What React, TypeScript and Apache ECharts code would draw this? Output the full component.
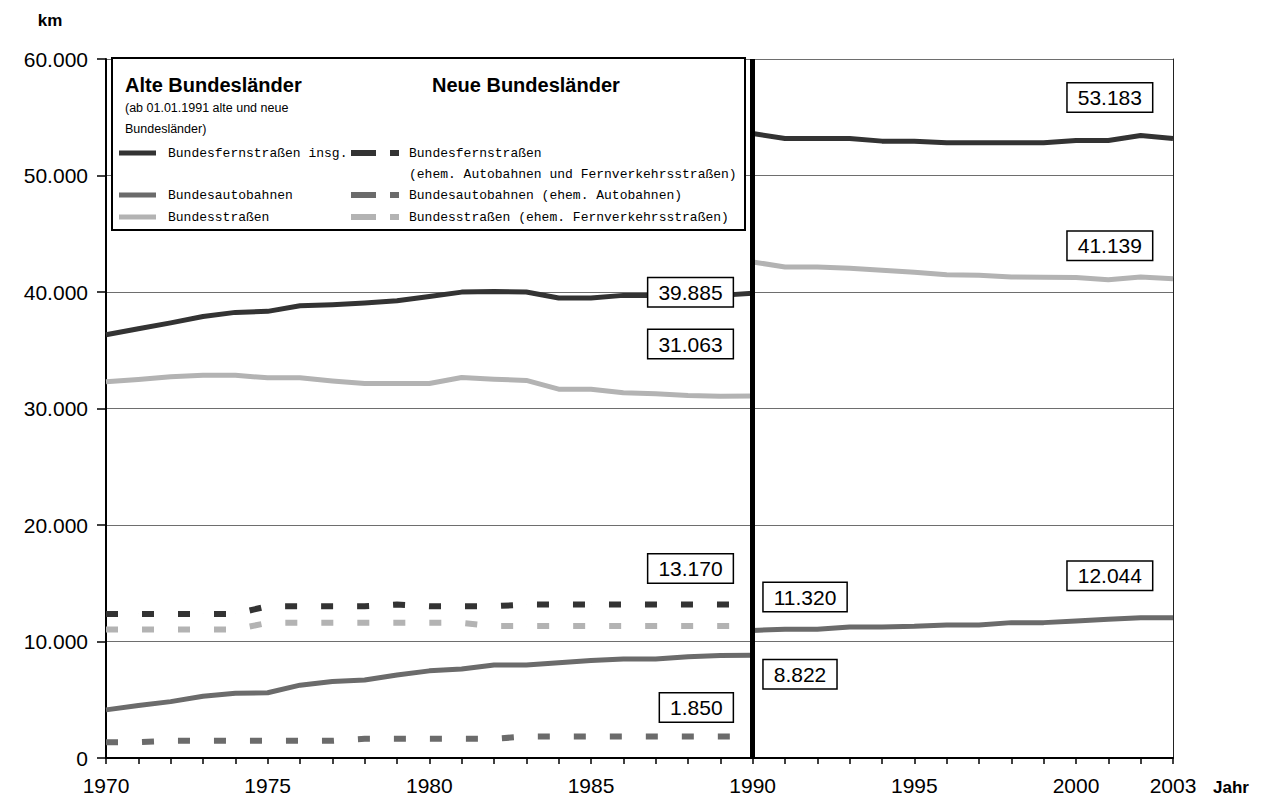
import React, { useEffect, useRef } from "react";
import * as echarts from "echarts";

// ---- data ----
const yearsOld = [1970, 1971, 1972, 1973, 1974, 1975, 1976, 1977, 1978, 1979, 1980, 1981, 1982, 1983, 1984, 1985, 1986, 1987, 1988, 1989, 1990];
const yearsNew = [1990, 1991, 1992, 1993, 1994, 1995, 1996, 1997, 1998, 1999, 2000, 2001, 2002, 2003];

// Alte Bundesländer (solid, 1970-1990)
const fernAlt = [36330, 36850, 37350, 37900, 38250, 38340, 38820, 38910, 39050, 39250, 39620, 39990, 40050, 40000, 39480, 39480, 39710, 39710, 39710, 39710, 39885];
const autobahnAlt = [4130, 4500, 4840, 5300, 5560, 5600, 6250, 6560, 6700, 7130, 7480, 7640, 7990, 7990, 8180, 8360, 8500, 8500, 8700, 8800, 8822];
const strassenAlt = [32290, 32490, 32720, 32860, 32860, 32630, 32630, 32370, 32150, 32150, 32150, 32660, 32520, 32410, 31660, 31660, 31350, 31260, 31120, 31060, 31063];

// Neue Bundesländer (dashed, 1970-1990)
const fernNeu = [12370, 12370, 12370, 12370, 12370, 13030, 13030, 13030, 13030, 13170, 13030, 13030, 13030, 13170, 13170, 13170, 13170, 13170, 13170, 13170, 13170];
const autobahnNeu = [1360, 1360, 1480, 1480, 1480, 1480, 1480, 1480, 1650, 1650, 1650, 1650, 1650, 1850, 1850, 1850, 1850, 1850, 1850, 1850, 1850];
const strassenNeu = [11030, 11030, 11030, 11030, 11030, 11600, 11600, 11600, 11600, 11600, 11600, 11600, 11320, 11320, 11320, 11320, 11320, 11320, 11320, 11320, 11320];

// Gesamtdeutschland (solid, 1990-2003)
const fernGes = [53600, 53180, 53180, 53180, 52950, 52950, 52810, 52810, 52810, 52810, 53010, 53010, 53440, 53183];
const autobahnGes = [10950, 11050, 11050, 11250, 11250, 11300, 11420, 11420, 11620, 11620, 11750, 11900, 12040, 12044];
const strassenGes = [42580, 42150, 42150, 42040, 41860, 41690, 41490, 41430, 41290, 41260, 41240, 41060, 41290, 41139];

const yTicks = [0, 10000, 20000, 30000, 40000, 50000, 60000];

const C_DARK = "#333333";
const C_MID = "#6b6b6b";
const C_LIGHT = "#b3b3b3";
const SANS = "'Liberation Sans', Arial, sans-serif";

const fmt = (v: number) => Math.round(v).toString().replace(/\B(?=(\d{3})+(?!\d))/g, ".");

function boxLabel(position: string, distance: number, offset: number[]) {
  return {
    show: true,
    position,
    distance,
    offset,
    formatter: (p: any) => fmt(p.value[1]),
    color: "#000",
    fontFamily: SANS,
    fontSize: 21,
    backgroundColor: "#fff",
    borderColor: "#000",
    borderWidth: 1.5,
    padding: [4, 10, 3, 10],
  };
}

function pts(years: number[], vals: number[], labelIdx = -1, label: any = null) {
  return years.map((y, i) =>
    i === labelIdx ? { value: [y, vals[i]], label } : { value: [y, vals[i]] }
  );
}

function lineSeries(name: string, data: any[], color: string, dashed: boolean, extra: any = {}) {
  return {
    name,
    type: "line",
    data,
    showSymbol: true,
    symbol: "circle",
    symbolSize: 0.1,
    itemStyle: { color },
    silent: true,
    z: 3,
    lineStyle: dashed
      ? { color, width: 6, type: [12, 24], cap: "butt" }
      : { color, width: 5, type: "solid", join: "round" },
    ...extra,
  };
}

const MONO = "13px 'Liberation Mono', 'Courier New', monospace";

function legendGraphic() {
  const els: any[] = [];
  els.push({ type: "rect", z: 100, shape: { x: 112, y: 58, width: 633, height: 172 }, style: { fill: "#fff", stroke: "#000", lineWidth: 2 } });
  const txt = (x: number, y: number, text: string, font: string) =>
    els.push({ type: "text", z: 101, x, y, style: { text, font, fill: "#000", align: "left", verticalAlign: "middle", textAlign: "left", textVerticalAlign: "middle" } });
  txt(125, 85, "Alte Bundesländer", "bold 20px 'Liberation Sans', Arial, sans-serif");
  txt(432, 85, "Neue Bundesländer", "bold 20px 'Liberation Sans', Arial, sans-serif");
  txt(125, 108, "(ab 01.01.1991 alte und neue", "12.5px 'Liberation Sans', Arial, sans-serif");
  txt(125, 129, "Bundesländer)", "12.5px 'Liberation Sans', Arial, sans-serif");
  const rows = [
    { y: 153, c: C_DARK, l: "Bundesfernstraßen insg.", r: "Bundesfernstraßen" },
    { y: 195, c: C_MID, l: "Bundesautobahnen", r: "Bundesautobahnen (ehem. Autobahnen)" },
    { y: 217, c: C_LIGHT, l: "Bundesstraßen", r: "Bundesstraßen (ehem. Fernverkehrsstraßen)" },
  ];
  rows.forEach((r) => {
    els.push({ type: "line", z: 101, shape: { x1: 119, y1: r.y, x2: 156, y2: r.y }, style: { stroke: r.c, lineWidth: 5 } });
    els.push({ type: "rect", z: 101, shape: { x: 351, y: r.y - 3, width: 25, height: 6 }, style: { fill: r.c } });
    els.push({ type: "rect", z: 101, shape: { x: 390, y: r.y - 3, width: 9, height: 6 }, style: { fill: r.c } });
    txt(168, r.y, r.l, MONO);
    txt(409, r.y, r.r, MONO);
  });
  txt(409, 174, "(ehem. Autobahnen und Fernverkehrsstraßen)", MONO);
  els.push({ type: "text", z: 101, x: 50, y: 20, style: { text: "km", font: "bold 17px 'Liberation Sans', Arial, sans-serif", fill: "#000", align: "center", verticalAlign: "middle", textAlign: "center", textVerticalAlign: "middle" } });
  els.push({ type: "text", z: 101, x: 1231, y: 787, style: { text: "Jahr", font: "bold 17px 'Liberation Sans', Arial, sans-serif", fill: "#000", align: "center", verticalAlign: "middle", textAlign: "center", textVerticalAlign: "middle" } });
  return els;
}

export default function App() {
  const ref = useRef<HTMLDivElement>(null);
  useEffect(() => {
    if (!ref.current) return;
    const chart = echarts.init(ref.current, null, { renderer: "svg" });
    const iOld = yearsOld.length - 1;
    const iNew = yearsNew.length - 1;
    chart.setOption({
      animation: false,
      backgroundColor: "#fff",
      textStyle: { fontFamily: SANS },
      grid: { left: 106, right: 88, top: 59, bottom: 37, containLabel: false },
      xAxis: {
        type: "value",
        min: 1970,
        max: 2003,
        interval: 1,
        axisLine: { show: true, lineStyle: { color: "#000", width: 2 } },
        axisTick: { show: true, length: 6, lineStyle: { color: "#000", width: 1.5 } },
        axisLabel: {
          margin: 17,
          fontSize: 21,
          color: "#000",
          fontFamily: SANS,
          formatter: (v: number) => (v % 5 === 0 || v === 2003 ? String(v) : ""),
        },
        splitLine: { show: false },
      },
      yAxis: [
        {
          type: "value",
          min: yTicks[0],
          max: yTicks[yTicks.length - 1],
          interval: 10000,
          axisLine: { show: true, lineStyle: { color: "#000", width: 2 } },
          axisTick: { show: true, length: 9, lineStyle: { color: "#000", width: 1.5 } },
          axisLabel: { margin: 18, fontSize: 21, color: "#000", fontFamily: SANS, formatter: (v: number) => fmt(v) },
          splitLine: { show: true, lineStyle: { color: "#6e6e6e", width: 1 } },
        },
        {
          type: "value",
          position: "right",
          min: 0,
          max: 60000,
          interval: 10000,
          axisLine: { show: true, lineStyle: { color: "#222", width: 1 } },
          axisTick: { show: false },
          axisLabel: { show: false },
          splitLine: { show: false },
        },
      ],
      series: [
        lineSeries("Bundesfernstraßen insg.", pts(yearsOld, fernAlt, iOld, boxLabel("left", 20, [0, -1])), C_DARK, false, {
          markLine: {
            silent: true,
            symbol: ["none", "none"],
            label: { show: false },
            lineStyle: { color: "#000", width: 5, type: "solid" },
            z: 10,
            data: [{ xAxis: 1990 }],
          },
        }),
        lineSeries("Bundesautobahnen", pts(yearsOld, autobahnAlt, iOld, boxLabel("right", 11, [0, 19])), C_MID, false),
        lineSeries("Bundesstraßen", pts(yearsOld, strassenAlt, iOld, boxLabel("left", 20, [0, -52])), C_LIGHT, false),
        lineSeries("Bundesfernstraßen (ehem. Autobahnen und Fernverkehrsstraßen)", pts(yearsOld, fernNeu, iOld, boxLabel("left", 20, [0, -36])), C_DARK, true),
        lineSeries("Bundesautobahnen (ehem. Autobahnen)", pts(yearsOld, autobahnNeu, iOld, boxLabel("left", 20, [0, -29])), C_MID, true),
        lineSeries("Bundesstraßen (ehem. Fernverkehrsstraßen)", pts(yearsOld, strassenNeu, iOld, boxLabel("right", 11, [0, -29])), C_LIGHT, true),
        lineSeries("Bundesfernstraßen gesamt", pts(yearsNew, fernGes, iNew, boxLabel("left", 21, [0, -41])), C_DARK, false),
        lineSeries("Bundesautobahnen gesamt", pts(yearsNew, autobahnGes, iNew, boxLabel("left", 21, [0, -42])), C_MID, false),
        lineSeries("Bundesstraßen gesamt", pts(yearsNew, strassenGes, iNew, boxLabel("left", 21, [0, -33])), C_LIGHT, false),
      ],
      graphic: legendGraphic(),
    });
    return () => chart.dispose();
  }, []);
  return <div ref={ref} style={{ position: "fixed", left: 0, top: 0, width: "1261px", height: "796px" }} />;
}
